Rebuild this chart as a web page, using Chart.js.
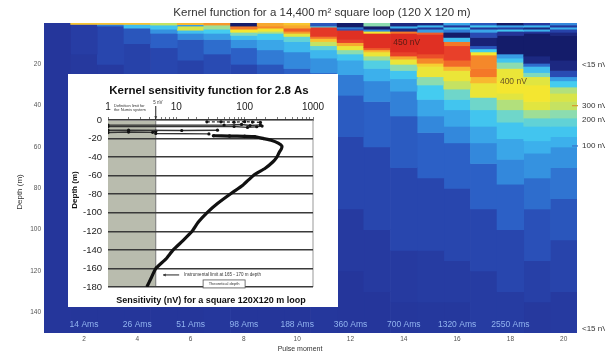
<!DOCTYPE html>
<html><head><meta charset="utf-8">
<script src="https://cdn.jsdelivr.net/npm/chart.js@4.4.1/dist/chart.umd.min.js"></script>
<style>
html,body{margin:0;padding:0;background:#fff;}
#wrap{position:relative;width:605px;height:355px;overflow:hidden;background:#fff;}
#main{position:absolute;left:0;top:0;}
#inset{position:absolute;left:68px;top:74px;background:#fff;}
</style></head><body>
<div id="wrap"><canvas id="main" width="605" height="355"></canvas><canvas id="inset" width="270" height="233"></canvas></div>
<script>
// ---------------- DATA: main kernel heatmap ----------------
const MAIN_TITLE = 'Kernel function for a 14,400 m\u00B2 square loop (120 X 120 m)';
const PULSE_MOMENTS = [1,2,3,4,5,6,7,8,9,10,11,12,13,14,15,16,17,18,19,20];
const DEPTH_MAX = 150;
const DEPTH_TICKS = [20,40,60,80,100,120,140];
// each profile: [depth where band starts (m), signal (nV)] for one pulse moment column
const PROFILE_01 = [[0,24]];
const PROFILE_02 = [[0,330],[0.7,34],[15,28],[40,23]];
const PROFILE_03 = [[0,330],[0.7,90],[1.5,45],[20,30],[50,23]];
const PROFILE_04 = [[0,330],[0.7,160],[2.5,60],[10,40],[30,28],[60,23]];
const PROFILE_05 = [[0,260],[1,170],[3,110],[5,70],[12,45],[30,30],[70,23]];
const PROFILE_06 = [[0,340],[0.8,120],[1.5,270],[3.5,160],[5,100],[8,60],[18,40],[40,28],[80,23]];
const PROFILE_07 = [[0,360],[1,240],[3,180],[5,120],[8,80],[15,50],[30,35],[60,25]];
const PROFILE_08 = [[0,0],[1.5,380],[3,300],[4.5,220],[6,160],[8,110],[12,70],[20,45],[40,30],[80,23]];
const PROFILE_09 = [[0,350],[1.5,370],[2.5,300],[4,250],[5,180],[8,130],[13,90],[20,60],[35,40],[60,28],[100,23]];
const PROFILE_10 = [[0,330],[1,350],[2.5,400],[4,360],[5,280],[6.5,200],[9,150],[14,100],[22,70],[35,45],[60,30],[100,23]];
const PROFILE_11 = [[0,60],[1.5,200],[2,430],[6.5,380],[7.5,330],[9,260],[11,200],[13,150],[17,110],[24,80],[35,55],[60,35],[100,25]];
const PROFILE_12 = [[0,0],[2,120],[2.5,60],[3.5,440],[8,420],[9.5,350],[11,290],[13,230],[15,170],[18,130],[25,90],[35,65],[55,45],[90,30],[120,24]];
const PROFILE_13 = [[0,230],[1.5,0],[3,100],[4,300],[5,440],[12,400],[13,340],[14,290],[16,240],[18,190],[22,140],[28,100],[38,70],[60,45],[100,30],[130,24]];
const PROFILE_14 = [[0,10],[1.5,140],[2.5,10],[4,380],[5,445],[14,420],[16,350],[17.5,290],[20,230],[23,170],[27,130],[33,95],[45,65],[70,45],[110,30],[135,25]];
const PROFILE_15 = [[0,10],[1,150],[2,20],[3,120],[4.5,400],[5.5,440],[15,410],[17,370],[19.5,320],[21,290],[26,230],[30,180],[37,130],[45,100],[53,70],[75,45],[110,32],[135,26]];
const PROFILE_16 = [[0,130],[1,20],[2,170],[3,90],[4.5,0],[7,160],[9,380],[11,420],[18,390],[21,340],[23,290],[28,260],[32,210],[37,170],[42,130],[50,100],[58,70],[80,45],[115,32],[135,26]];
const PROFILE_17 = [[0,60],[1,170],[2,20],[3,130],[4.5,50],[7,5],[11,60],[12.5,180],[14,300],[15.5,370],[22,380],[26,340],[29,290],[36,210],[42,170],[50,130],[58,100],[68,70],[90,45],[120,32]];
const PROFILE_18 = [[0,0],[1,130],[2,30],[3,170],[4,20],[6,0],[15,120],[17,170],[19,230],[22,290],[28,300],[34,280],[37,250],[42,210],[48,170],[56,130],[66,100],[78,70],[100,45],[130,32]];
const PROFILE_19 = [[0,30],[1,150],[2,10],[3,140],[4,20],[5,0],[16,10],[19.5,80],[21,160],[24,220],[26,280],[30,300],[38,280],[42,240],[46,200],[50,170],[57,140],[63,110],[75,80],[90,55],[115,38],[135,28]];
const PROFILE_20 = [[0,100],[1,20],[2,140],[3,40],[4.5,10],[6,0],[18,10],[23,50],[26,120],[28,180],[31,250],[34,270],[38,260],[42,230],[46,200],[50,170],[55,140],[60,110],[70,85],[85,60],[105,42],[130,30]];
const PROFILES = [PROFILE_01,PROFILE_02,PROFILE_03,PROFILE_04,PROFILE_05,PROFILE_06,PROFILE_07,PROFILE_08,PROFILE_09,PROFILE_10,
                  PROFILE_11,PROFILE_12,PROFILE_13,PROFILE_14,PROFILE_15,PROFILE_16,PROFILE_17,PROFILE_18,PROFILE_19,PROFILE_20];
const MOMENT_LABELS = ['14 Ams','26 Ams','51 Ams','98 Ams','188 Ams','360 Ams','700 Ams','1320 Ams','2550 Ams'];
const MOMENT_LABEL_COLUMNS = [2,4,6,8,10,12,14,16,18];
const MOMENT_LABEL_DEPTH = 146;
const PEAK_LABELS = ['450 nV','400 nV'];
const PEAK_COLUMNS = [14,18];
const PEAK_DEPTHS = [9.7,28.5];
const SIDE_LABELS = ['<15 nV','300 nV','200 nV','100 nV','<15 nV'];
const SIDE_DEPTHS = [20,40,47,59.5,148];

// ---------------- DATA: inset sensitivity plot ----------------
const INSET_TITLE = 'Kernel sensitivity function for 2.8 As';
const INSET_XLABEL = 'Sensitivity (nV) for a square 120X120 m loop';
const GRAY_LIMIT_NV = 5;
const CURVE_NV =    [35, 60, 100, 140, 187, 250, 310, 350, 345, 320, 296, 260, 200, 133, 95, 61, 40, 28, 21, 17, 12.5, 9, 7, 5, 4.3, 3.7];
const CURVE_DEPTH = [-17,-17.3,-17.6,-18,-20,-22,-25,-28,-31,-35,-40,-45,-52,-60,-70,-80,-90,-100,-110,-120,-130,-140,-150,-160,-170,-180];
const NOISE_A_NV = [28,45,70,100,130,170];   const NOISE_A_DEPTH = [-2,-2,-2.3,-1.8,-2.2,-2.6];
const NOISE_B_NV = [1,50,90,120,170];        const NOISE_B_DEPTH = [-5.5,-5.5,-4.8,-6,-5.2];
const NOISE_C_NV = [1,70,110,150,180];       const NOISE_C_DEPTH = [-7,-7,-8,-7.2,-6.5];
const NOISE_D_NV = [1,2,12,40];              const NOISE_D_DEPTH = [-11,-11,-11.3,-11];
const NOISE_E_NV = [1,2,4.5,5,5,30];         const NOISE_E_DEPTH = [-13.5,-13,-13.3,-12,-14.5,-15];

// ---------------- helpers ----------------
Chart.defaults.font.family = "'Liberation Sans', Arial, Helvetica, sans-serif";
const FONT = "'Liberation Sans', Arial, Helvetica, sans-serif";
const STOPS = [[0,[20,28,106]],[20,[36,52,152]],[30,[38,58,160]],[45,[40,70,174]],[70,[44,96,198]],[100,[51,136,220]],[140,[60,176,236]],
  [180,[68,204,240]],[230,[140,220,176]],[270,[216,228,72]],[300,[244,230,48]],[340,[248,184,48]],[380,[244,120,40]],[420,[232,64,42]],[450,[220,40,32]]];
function colorFor(v){
  if (v <= STOPS[0][0]) return 'rgb(' + STOPS[0][1].join(',') + ')';
  for (let i=1;i<STOPS.length;i++){
    if (v <= STOPS[i][0]){
      const [a,ca] = STOPS[i-1], [b,cb] = STOPS[i];
      const t = (v-a)/(b-a);
      return 'rgb(' + ca.map((c,j)=>Math.round(c+(cb[j]-c)*t)).join(',') + ')';
    }
  }
  return 'rgb(' + STOPS[STOPS.length-1][1].join(',') + ')';
}
function buildHeatmapDatasets(){
  const maxSeg = Math.max(...PROFILES.map(p=>p.length));
  const ds = [];
  for (let j=0;j<maxSeg;j++){
    const data=[], colors=[];
    PROFILES.forEach(p=>{
      if (j < p.length){
        const top = p[j][0], bot = (j+1 < p.length) ? p[j+1][0] : DEPTH_MAX;
        data.push([top,bot]); colors.push(colorFor(p[j][1]));
      } else { data.push(null); colors.push('rgba(0,0,0,0)'); }
    });
    ds.push({data, backgroundColor:colors, borderWidth:0, grouped:false, barPercentage:1, categoryPercentage:1});
  }
  return ds;
}

// ---------------- main chart ----------------
const mainOverlay = {
  id:'mainOverlay',
  afterDraw(chart){
    const {ctx, chartArea:ca, scales:{x,y}} = chart;
    ctx.save();
    ctx.textAlign='center'; ctx.textBaseline='middle';
    ctx.font = '11.5px ' + FONT; ctx.fillStyle='#333';
    ctx.fillText(MAIN_TITLE, 322, 13);
    ctx.font = '7px ' + FONT; ctx.fillStyle='#333';
    ctx.fillText('Pulse moment', 300, 349);
    ctx.save(); ctx.translate(20, 192); ctx.rotate(-Math.PI/2);
    ctx.font = '8px ' + FONT; ctx.fillText('Depth (m)', 0, 0); ctx.restore();
    ctx.font = '8.5px ' + FONT; ctx.fillStyle='#92b4f0';
    MOMENT_LABELS.forEach((t,i)=>{
      ctx.fillText(t, x.getPixelForValue(MOMENT_LABEL_COLUMNS[i]-1), y.getPixelForValue(MOMENT_LABEL_DEPTH));
    });
    ctx.font = '8.5px ' + FONT;
    PEAK_LABELS.forEach((t,i)=>{
      ctx.fillStyle = i===0 ? '#5a1c14' : '#6a5424';
      ctx.fillText(t, x.getPixelForValue(PEAK_COLUMNS[i]-1)+3, y.getPixelForValue(PEAK_DEPTHS[i]));
    });
    ctx.textAlign='left'; ctx.font='8px ' + FONT; ctx.fillStyle='#333';
    SIDE_LABELS.forEach((t,i)=>{ ctx.fillText(t, ca.right+5, y.getPixelForValue(SIDE_DEPTHS[i])); });
    ctx.lineWidth=1.2;
    ctx.strokeStyle='#d89a30'; ctx.beginPath(); ctx.moveTo(ca.right-5, y.getPixelForValue(SIDE_DEPTHS[1])); ctx.lineTo(ca.right+1, y.getPixelForValue(SIDE_DEPTHS[1])); ctx.stroke();
    ctx.strokeStyle='#3a6ec8'; ctx.beginPath(); ctx.moveTo(ca.right-5, y.getPixelForValue(SIDE_DEPTHS[3])); ctx.lineTo(ca.right+1, y.getPixelForValue(SIDE_DEPTHS[3])); ctx.stroke();
    ctx.restore();
  }
};
new Chart(document.getElementById('main'), {
  type:'bar',
  data:{labels:PULSE_MOMENTS.map(String), datasets:buildHeatmapDatasets()},
  options:{
    responsive:false, animation:false, devicePixelRatio:1,
    layout:{padding:{left:15, top:23, right:28, bottom:0}},
    plugins:{legend:{display:false}, tooltip:{enabled:false}, title:{display:false}},
    scales:{
      x:{type:'category', offset:true, grid:{display:false, drawTicks:false}, border:{display:false},
         ticks:{autoSkip:false, maxRotation:0, font:{size:6.5}, color:'#555', padding:2,
                callback:(v,i)=> (PULSE_MOMENTS[i]%2===0 ? String(PULSE_MOMENTS[i]) : '')},
         afterFit(s){ s.height = 22; }},
      y:{type:'linear', min:0, max:DEPTH_MAX, reverse:true,
         afterBuildTicks(s){ s.ticks = DEPTH_TICKS.map(v=>({value:v})); },
         grid:{display:false, drawTicks:false}, border:{display:false},
         ticks:{font:{size:6.5}, color:'#555', padding:3},
         afterFit(s){ s.width = 29; }}
    }
  },
  plugins:[mainOverlay]
});

// ---------------- inset chart ----------------
function pts(xs, ys){ return xs.map((v,i)=>({x:v, y:ys[i]})); }
function arrow(ctx, x1,y1,x2,y2){
  ctx.beginPath(); ctx.moveTo(x1,y1); ctx.lineTo(x2,y2); ctx.stroke();
  const a = Math.atan2(y2-y1, x2-x1), L=3;
  ctx.beginPath(); ctx.moveTo(x2,y2);
  ctx.lineTo(x2-L*Math.cos(a-0.5), y2-L*Math.sin(a-0.5));
  ctx.lineTo(x2-L*Math.cos(a+0.5), y2-L*Math.sin(a+0.5)); ctx.closePath(); ctx.fill();
}
const insetPlugin = {
  id:'insetPlugin',
  beforeDraw(chart){
    const {ctx, chartArea:ca, scales:{x}} = chart;
    ctx.save();
    const x1 = x.getPixelForValue(1), x5 = x.getPixelForValue(GRAY_LIMIT_NV);
    ctx.fillStyle='#b9bcae'; ctx.fillRect(x1, ca.top, x5-x1, ca.bottom-ca.top);
    ctx.strokeStyle='#777'; ctx.lineWidth=1;
    ctx.beginPath(); ctx.moveTo(x5, ca.top); ctx.lineTo(x5, ca.bottom); ctx.stroke();
    ctx.strokeStyle='#999';
    ctx.beginPath(); ctx.moveTo(ca.right, ca.top); ctx.lineTo(ca.right, ca.bottom); ctx.stroke();
    ctx.restore();
  },
  afterDraw(chart){
    const {ctx, chartArea:ca, scales:{x,y}} = chart;
    ctx.save();
    ctx.textAlign='center'; ctx.textBaseline='middle'; ctx.fillStyle='#111';
    ctx.font = 'bold 11.5px ' + FONT;
    ctx.fillText(INSET_TITLE, 141, 17);
    ctx.font = 'bold 9px ' + FONT;
    ctx.fillText(INSET_XLABEL, 143, 227);
    ctx.save(); ctx.translate(7, 116); ctx.rotate(-Math.PI/2);
    ctx.font = 'bold 8px ' + FONT; ctx.fillText('Depth (m)', 0, 0); ctx.restore();
    // tiny annotations
    ctx.fillStyle='#333'; ctx.strokeStyle='#222'; ctx.lineWidth=1;
    ctx.font = '4px ' + FONT; ctx.textAlign='left';
    ctx.fillText('Definition limit for', x.getPixelForValue(1)+6, ca.top-14);
    ctx.fillText('the Numis system', x.getPixelForValue(1)+6, ca.top-10);
    ctx.font = '4.5px ' + FONT; ctx.textAlign='center';
    ctx.fillText('5 nV', x.getPixelForValue(GRAY_LIMIT_NV)+2, ca.top-17);
    arrow(ctx, x.getPixelForValue(GRAY_LIMIT_NV), ca.top-14, x.getPixelForValue(GRAY_LIMIT_NV), ca.top-1);
    const yi = y.getPixelForValue(-167);
    arrow(ctx, x.getPixelForValue(11), yi, x.getPixelForValue(6.4), yi);
    ctx.textAlign='left'; ctx.font='4.5px ' + FONT;
    ctx.fillText('Instrumental limit at 165 - 170 m depth', x.getPixelForValue(13), yi);
    const bx = x.getPixelForValue(50), by = y.getPixelForValue(-176.7);
    ctx.fillStyle='#fff'; ctx.fillRect(bx-21, by-4, 42, 8);
    ctx.strokeStyle='#555'; ctx.lineWidth=0.8; ctx.strokeRect(bx-21, by-4, 42, 8);
    ctx.fillStyle='#333'; ctx.textAlign='center'; ctx.font='4px ' + FONT;
    ctx.fillText('Theoretical depth', bx, by);
    ctx.restore();
  }
};
const noiseStyle = {showLine:true, borderColor:'#333', borderWidth:1.4, pointRadius:1.6, pointBackgroundColor:'#111', pointBorderWidth:0};
new Chart(document.getElementById('inset'), {
  type:'scatter',
  data:{datasets:[
    Object.assign({data:pts(NOISE_A_NV, NOISE_A_DEPTH), borderDash:[3,2]}, noiseStyle),
    Object.assign({data:pts(NOISE_B_NV, NOISE_B_DEPTH)}, noiseStyle),
    Object.assign({data:pts(NOISE_C_NV, NOISE_C_DEPTH)}, noiseStyle),
    Object.assign({data:pts(NOISE_D_NV, NOISE_D_DEPTH)}, noiseStyle),
    Object.assign({data:pts(NOISE_E_NV, NOISE_E_DEPTH)}, noiseStyle),
    {data:pts(CURVE_NV, CURVE_DEPTH), showLine:true, borderColor:'#111', borderWidth:3.2, tension:0.15,
     pointRadius:(c)=> (c.dataIndex < 5 ? 1.8 : 0), pointBackgroundColor:'#111', pointBorderWidth:0}
  ]},
  options:{
    responsive:false, animation:false, devicePixelRatio:1,
    layout:{padding:{left:0, top:0, right:25, bottom:20}},
    plugins:{legend:{display:false}, tooltip:{enabled:false}},
    scales:{
      x:{type:'logarithmic', position:'top', min:1, max:1000,
         grid:{display:true, drawOnChartArea:false, drawTicks:true, tickLength:3, color:'#777'},
         border:{display:true, color:'#888'},
         ticks:{autoSkip:false, maxRotation:0, font:{size:10}, color:'#222', padding:4,
                callback(v){ const l=Math.log10(v); return Math.abs(l-Math.round(l))<1e-9 ? String(v) : ''; }},
         afterFit(s){ s.height = 46; }},
      y:{type:'linear', min:-180, max:0,
         ticks:{stepSize:20, font:{size:9.5}, color:'#222', padding:6},
         grid:{color:'#3a3a3a', lineWidth:1.5, drawTicks:false},
         border:{display:false},
         afterFit(s){ s.width = 40; }}
    }
  },
  plugins:[insetPlugin]
});
</script>
</body></html>
